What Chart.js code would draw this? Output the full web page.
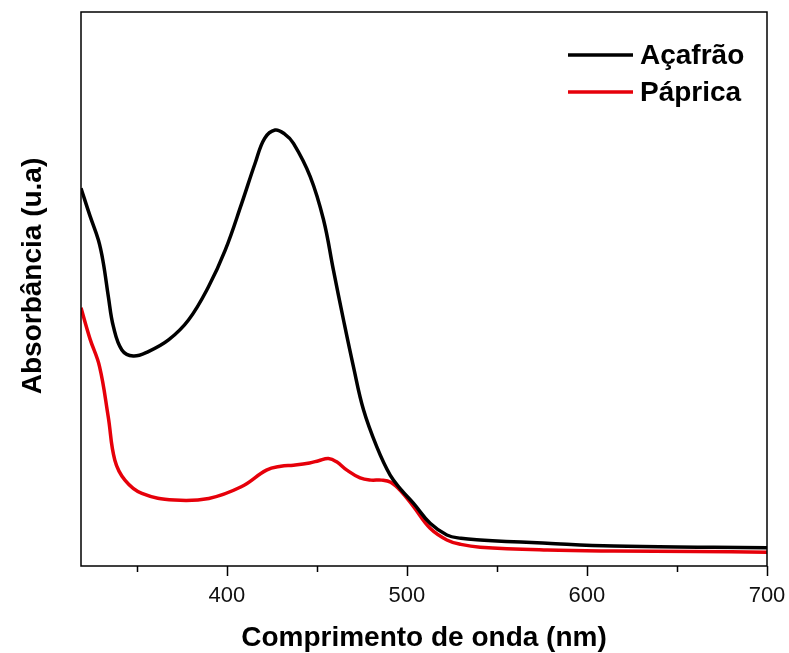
<!DOCTYPE html>
<html>
<head>
<meta charset="utf-8">
<script src="https://cdn.jsdelivr.net/npm/chart.js@4.4.1/dist/chart.umd.min.js"></script>
<style>
  html, body { margin: 0; padding: 0; background: #ffffff; }
  #wrap { width: 789px; height: 653px; }
</style>
</head>
<body>
<div id="wrap"><canvas id="c" width="789" height="653"></canvas></div>
<script>
// ---- data ----
const seriesNames = ['Açafrão', 'Páprica'];
const seriesColors = ['#000000', '#e6000a'];

const wlAcafrao = [319, 324, 328.7, 331.4, 334.2, 337, 341.7, 348, 356.4, 367.6, 378.7, 389.8, 399.1, 408.3, 415.7, 421, 426.8, 432, 437, 446.3, 453.7, 459.2, 464.8, 470.3, 475.9, 483.3, 490.7, 497, 503.7, 512.9, 522.2, 530, 540.7, 577.8, 614.8, 670.3, 700];
const absAcafrao = [0.682, 0.632, 0.588, 0.547, 0.486, 0.432, 0.390, 0.379, 0.387, 0.408, 0.444, 0.504, 0.570, 0.655, 0.727, 0.772, 0.787, 0.780, 0.763, 0.703, 0.625, 0.534, 0.444, 0.360, 0.282, 0.215, 0.164, 0.137, 0.113, 0.077, 0.056, 0.050, 0.047, 0.041, 0.036, 0.034, 0.033];

const wlPaprica = [319, 324, 329.3, 334.1, 337.8, 343.4, 352.8, 371, 390, 408, 422, 430, 437, 446, 451, 456.4, 461, 466.7, 474, 480, 486, 491, 497, 503.7, 512.9, 522.2, 530, 540.7, 578, 615, 660, 700];
const absPaprica = [0.466, 0.410, 0.360, 0.270, 0.191, 0.155, 0.131, 0.119, 0.122, 0.143, 0.173, 0.180, 0.182, 0.186, 0.190, 0.194, 0.188, 0.173, 0.159, 0.155, 0.155, 0.151, 0.134, 0.107, 0.068, 0.047, 0.039, 0.034, 0.029, 0.027, 0.026, 0.025];

const majorTicks = [400, 500, 600, 700];
const minorTicks = [350, 450, 550, 650];
const xMin = 319, xMax = 700;
const yMin = 0, yMax = 1;

const xTitle = 'Comprimento de onda (nm)';
const yTitle = 'Absorbância (u.a)';

const toPoints = (xs, ys) => xs.map((x, i) => ({ x: x, y: ys[i] }));
const FONT = '"Liberation Sans", Arial, sans-serif';

// frame, ticks, y title and legend plugin
const framePlugin = {
  id: 'frame',
  afterDatasetsDraw(chart) {
    const { ctx, chartArea: a, scales } = chart;
    const xs = scales.x;
    ctx.save();
    ctx.strokeStyle = '#000';
    ctx.lineWidth = 1.5;
    ctx.strokeRect(a.left, a.top, a.right - a.left, a.bottom - a.top);
    ctx.beginPath();
    majorTicks.forEach(v => {
      const px = Math.round(xs.getPixelForValue(v)) + 0.5;
      ctx.moveTo(px, a.bottom); ctx.lineTo(px, a.bottom + 10);
    });
    minorTicks.forEach(v => {
      const px = Math.round(xs.getPixelForValue(v)) + 0.5;
      ctx.moveTo(px, a.bottom); ctx.lineTo(px, a.bottom + 6);
    });
    ctx.stroke();

    // y-axis title
    ctx.save();
    ctx.translate(33, (a.top + a.bottom) / 2 - 13);
    ctx.rotate(-Math.PI / 2);
    ctx.fillStyle = '#000';
    ctx.font = 'bold 28px ' + FONT;
    ctx.textAlign = 'center';
    ctx.textBaseline = 'middle';
    ctx.fillText(yTitle, 0, 0);
    ctx.restore();

    // legend
    const legX = a.right - 199, legY0 = a.top + 43, legDy = 37;
    chart.data.datasets.forEach((ds, i) => {
      const y = legY0 + i * legDy;
      ctx.strokeStyle = ds.borderColor;
      ctx.lineWidth = 3.5;
      ctx.beginPath();
      ctx.moveTo(legX, y); ctx.lineTo(legX + 65, y);
      ctx.stroke();
      ctx.fillStyle = '#000';
      ctx.font = 'bold 28px ' + FONT;
      ctx.textBaseline = 'middle';
      ctx.textAlign = 'left';
      ctx.fillText(ds.label, legX + 72, y + 1);
    });
    ctx.restore();
  }
};

new Chart(document.getElementById('c'), {
  type: 'line',
  data: {
    datasets: [
      { label: seriesNames[0], data: toPoints(wlAcafrao, absAcafrao), borderColor: seriesColors[0], borderWidth: 3.5, pointRadius: 0, tension: 0.4, fill: false },
      { label: seriesNames[1], data: toPoints(wlPaprica, absPaprica), borderColor: seriesColors[1], borderWidth: 3.5, pointRadius: 0, tension: 0.4, fill: false }
    ]
  },
  options: {
    responsive: false,
    animation: false,
    layout: { padding: { left: 0, top: 12, right: 22, bottom: 0 } },
    plugins: { legend: { display: false }, tooltip: { enabled: false } },
    scales: {
      x: {
        type: 'linear', min: xMin, max: xMax,
        grid: { display: false },
        border: { display: false },
        afterBuildTicks: s => { s.ticks = majorTicks.map(v => ({ value: v })); },
        afterFit: s => { s.height = 87; s.paddingLeft = 0; s.paddingRight = 0; },
        ticks: {
          color: '#111',
          font: { family: FONT, size: 22 },
          padding: 9,
          maxRotation: 0,
          autoSkip: false
        },
        title: {
          display: true, text: xTitle, color: '#000',
          font: { family: FONT, size: 28, weight: 'bold' },
          padding: { top: 0, bottom: -2 }
        }
      },
      y: {
        type: 'linear', min: yMin, max: yMax,
        grid: { display: false },
        border: { display: false },
        ticks: { display: false },
        afterFit: s => { s.width = 81; s.paddingTop = 0; s.paddingBottom = 0; },
        title: { display: false }
      }
    }
  },
  plugins: [framePlugin]
});
</script>
</body>
</html>
